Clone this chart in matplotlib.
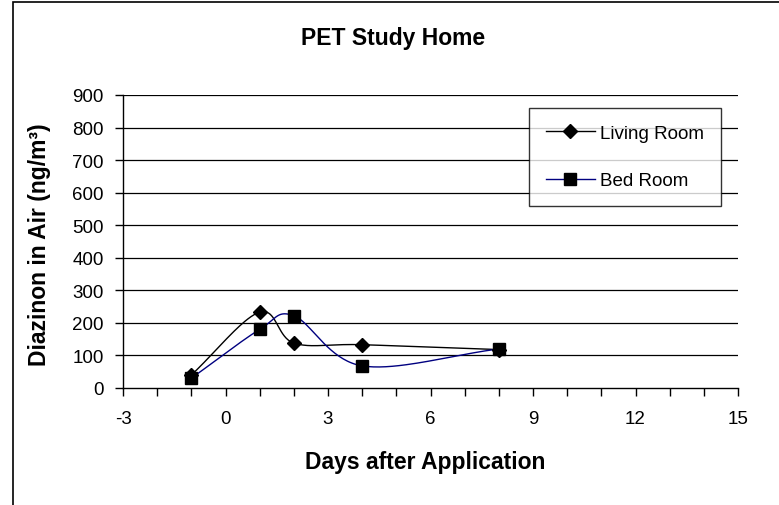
import numpy as np
import matplotlib
matplotlib.use("Agg")
import matplotlib.pyplot as plt
from matplotlib.patches import Rectangle
from matplotlib.lines import Line2D

days = [-1, 1, 2, 4, 8]
living_room = [40, 233, 138, 133, 118]
bed_room = [30, 180, 222, 68, 120]
series_names = ["Living Room", "Bed Room"]
x_ticks = [-3, 0, 3, 6, 9, 12, 15]
y_ticks = [0, 100, 200, 300, 400, 500, 600, 700, 800, 900]

plt.rcParams['font.family'] = ['Liberation Sans', 'DejaVu Sans']
plt.rcParams['axes.unicode_minus'] = False


def smooth(xs, ys, n=40):
    # Bezier smoothing similar to Excel smoothed lines
    xs = np.asarray(xs, float); ys = np.asarray(ys, float)
    px = np.concatenate([[2*xs[0]-xs[1]], xs, [2*xs[-1]-xs[-2]]])
    py = np.concatenate([[2*ys[0]-ys[1]], ys, [2*ys[-1]-ys[-2]]])
    ox, oy = [], []
    t = np.linspace(0, 1, n)
    for i in range(1, len(px) - 2):
        p0, p1, p2, p3 = (np.array([px[j], py[j]]) for j in (i-1, i, i+1, i+2))
        c1 = p1 + (p2 - p0) / 6.0
        c2 = p2 - (p3 - p1) / 6.0
        b = ((1-t)**3)[:, None]*p1 + (3*(1-t)**2*t)[:, None]*c1 + (3*(1-t)*t**2)[:, None]*c2 + (t**3)[:, None]*p2
        ox.extend(b[:, 0]); oy.extend(b[:, 1])
    return np.array(ox), np.array(oy)


fig = plt.figure(figsize=(7.79, 5.06), dpi=100)
fig.patches.append(Rectangle((13/779, -0.05), 1.0, 1 - 3/506 + 0.05, transform=fig.transFigure,
                             fill=False, edgecolor='black', linewidth=1.2))

ax = fig.add_axes([123/779, 1 - 389/506, (738-123)/779, (389-96)/506])

for y in y_ticks[1:]:
    ax.axhline(y, color='black', linewidth=0.9, zorder=1)

sx, sy = smooth(days, living_room)
ax.plot(sx, sy, color='black', linewidth=1.0, zorder=3)
ax.plot(days, living_room, linestyle='none', marker='D', markersize=7.5, color='black', zorder=4)
sx, sy = smooth(days, bed_room)
ax.plot(sx, sy, color='#000080', linewidth=1.0, zorder=3)
ax.plot(days, bed_room, linestyle='none', marker='s', markersize=8, color='black', zorder=4)

handles = [Line2D([], [], color='black', linewidth=1.0, marker='D', markersize=7.5, markerfacecolor='black'),
           Line2D([], [], color='#000080', linewidth=1.0, marker='s', markersize=8, markerfacecolor='black', markeredgecolor='black')]
leg = ax.legend(handles, series_names, loc='upper left', bbox_to_anchor=((529-123)/615, (389-109)/293),
                frameon=True, fancybox=False, shadow=False, fontsize=13.5, labelspacing=1.6,
                borderpad=0.9, handlelength=2.6, handletextpad=0.3, borderaxespad=0)
leg.get_frame().set_edgecolor('black')
leg.get_frame().set_linewidth(1.0)

ax.set_xlim(-3, 15)
ax.set_ylim(0, 900)
ax.set_xticks(x_ticks)
ax.set_xticks(np.arange(-3, 16, 1), minor=True)
ax.set_yticks(y_ticks)
ax.tick_params(axis='both', which='major', labelsize=13.5, length=6, width=1, direction='out', color='black')
ax.tick_params(axis='x', which='major', pad=10)
ax.tick_params(axis='y', which='major', pad=8)
ax.tick_params(axis='x', which='minor', length=6, width=1, direction='out')
for s in ['top', 'right']:
    ax.spines[s].set_visible(False)
for s in ['left', 'bottom']:
    ax.spines[s].set_linewidth(1.0)

ax.set_xlabel("Days after Application", fontsize=16.5, fontweight='bold', va='center')
ax.xaxis.set_label_coords((425-123)/615, (389-463)/293)
ax.set_ylabel("Diazinon in Air (ng/m³)", fontsize=16.5, fontweight='bold', va='center')
ax.yaxis.set_label_coords((40-123)/615, (389-245)/293)
fig.text(393/779, 1 - 38/506, "PET Study Home", ha='center', va='center', fontsize=16.5, fontweight='bold')

fig.savefig("out.png", dpi=100)
